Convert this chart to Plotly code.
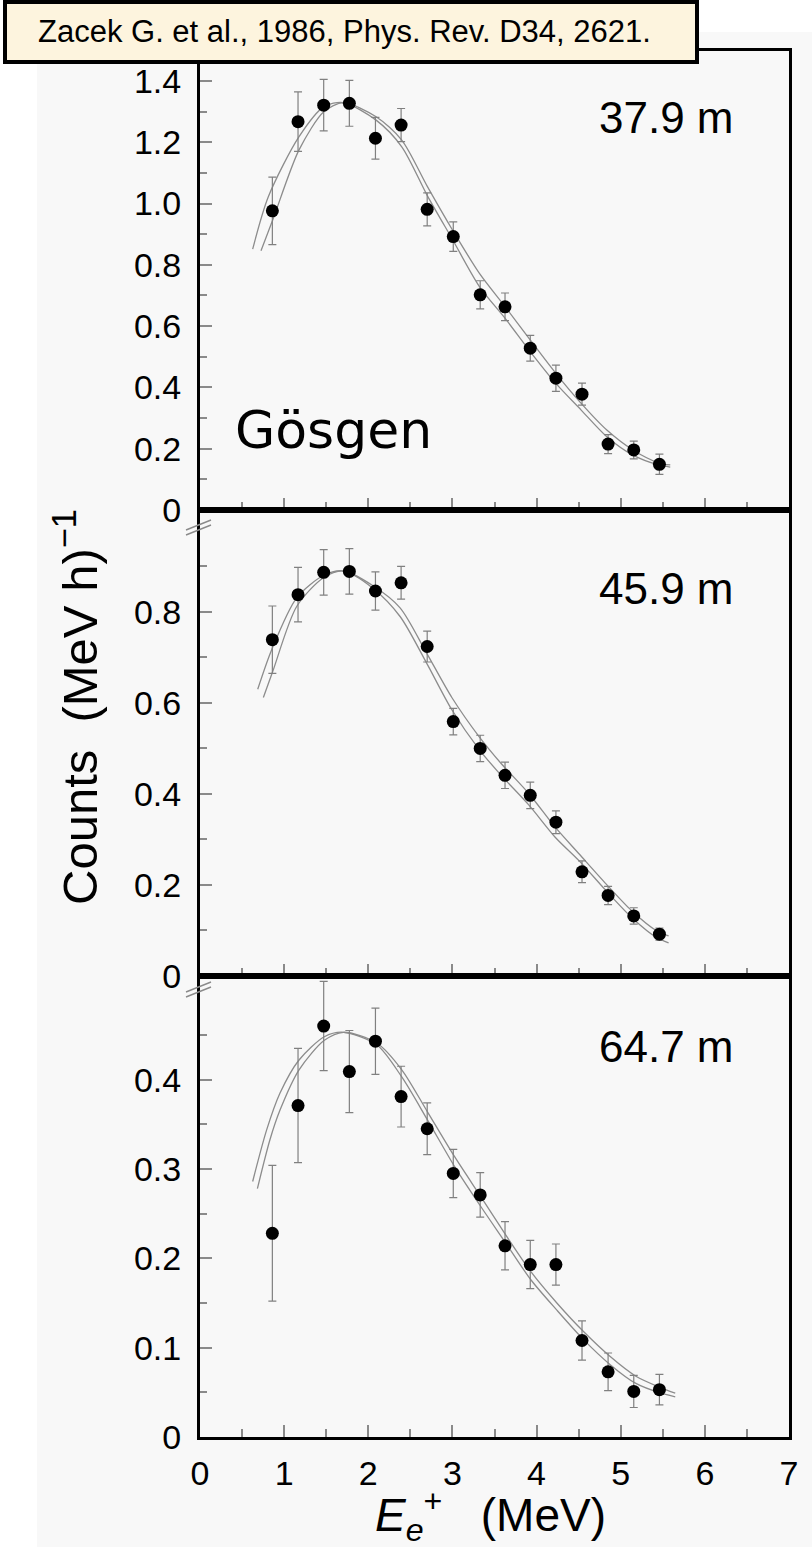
import plotly.graph_objects as go

# ---------------- data ----------------
energy_mev = [0.86, 1.165, 1.47, 1.775, 2.085, 2.39, 2.70, 3.01,
              3.33, 3.625, 3.925, 4.23, 4.54, 4.85, 5.155, 5.46]

counts_379 = [0.976, 1.267, 1.321, 1.327, 1.213, 1.256, 0.981, 0.892,
              0.702, 0.663, 0.528, 0.430, 0.378, 0.215, 0.196, 0.149]
err_379 = [0.110, 0.097, 0.084, 0.075, 0.068, 0.054, 0.054, 0.048,
           0.046, 0.045, 0.042, 0.043, 0.036, 0.031, 0.029, 0.033]

counts_459 = [0.739, 0.838, 0.887, 0.889, 0.846, 0.864, 0.724, 0.559,
              0.500, 0.441, 0.397, 0.338, 0.229, 0.177, 0.132, 0.092]
err_459 = [0.074, 0.060, 0.050, 0.050, 0.042, 0.036, 0.034, 0.029,
           0.029, 0.029, 0.029, 0.025, 0.024, 0.020, 0.018, 0.013]

counts_647 = [0.228, 0.371, 0.460, 0.409, 0.443, 0.381, 0.345, 0.295,
              0.271, 0.214, 0.193, 0.193, 0.108, 0.073, 0.051, 0.053]
err_647 = [0.076, 0.064, 0.050, 0.046, 0.037, 0.034, 0.029, 0.027,
           0.025, 0.027, 0.027, 0.023, 0.022, 0.021, 0.018, 0.017]

# fitted curves (two per panel)
fitA_379_x = [0.626, 0.812, 1.177, 1.474, 1.704, 2.093, 2.398, 2.703, 3.004,
              3.321, 3.627, 3.924, 4.229, 4.530, 4.835, 5.145, 5.45, 5.589]
fitA_379_y = [0.851, 1.022, 1.218, 1.316, 1.329, 1.272, 1.185, 1.025, 0.881,
              0.729, 0.625, 0.517, 0.413, 0.326, 0.239, 0.179, 0.147, 0.140]
fitB_379_x = [0.725, 0.864, 1.177, 1.474, 1.704, 2.093, 2.398, 2.703, 3.004,
              3.321, 3.627, 3.924, 4.229, 4.530, 4.835, 5.145, 5.45, 5.589]
fitB_379_y = [0.846, 0.946, 1.175, 1.300, 1.329, 1.283, 1.207, 1.055, 0.912,
              0.772, 0.663, 0.555, 0.446, 0.348, 0.261, 0.196, 0.154, 0.147]

fitA_459_x = [0.686, 0.852, 1.149, 1.467, 1.704, 2.061, 2.378, 2.695, 2.993,
              3.321, 3.579, 3.912, 4.221, 4.507, 4.828, 5.133, 5.430, 5.569]
fitA_459_y = [0.630, 0.717, 0.831, 0.880, 0.890, 0.851, 0.790, 0.687, 0.585,
              0.497, 0.441, 0.375, 0.305, 0.253, 0.187, 0.128, 0.084, 0.073]
fitB_459_x = [0.753, 0.864, 1.149, 1.467, 1.704, 2.061, 2.378, 2.695, 2.993,
              3.321, 3.579, 3.912, 4.221, 4.507, 4.828, 5.133, 5.430, 5.569]
fitB_459_y = [0.612, 0.669, 0.812, 0.875, 0.890, 0.857, 0.809, 0.709, 0.612,
              0.525, 0.467, 0.400, 0.327, 0.268, 0.202, 0.143, 0.099, 0.088]

fitA_647_x = [0.626, 0.793, 0.951, 1.177, 1.478, 1.704, 2.101, 2.398, 2.703, 3.024,
              3.337, 3.635, 3.932, 4.241, 4.558, 4.875, 5.18, 5.48, 5.648]
fitA_647_y = [0.286, 0.344, 0.385, 0.422, 0.448, 0.453, 0.439, 0.403, 0.355, 0.303,
              0.258, 0.217, 0.176, 0.142, 0.109, 0.081, 0.060, 0.049, 0.045]
fitB_647_x = [0.682, 0.832, 0.951, 1.177, 1.478, 1.704, 2.101, 2.398, 2.703, 3.024,
              3.337, 3.635, 3.932, 4.241, 4.558, 4.875, 5.18, 5.48, 5.648]
fitB_647_y = [0.278, 0.333, 0.366, 0.411, 0.444, 0.453, 0.441, 0.411, 0.364, 0.314,
              0.269, 0.226, 0.185, 0.150, 0.118, 0.090, 0.068, 0.055, 0.049]

panel_labels = ["37.9 m", "45.9 m", "64.7 m"]
x_ticks = [0, 1, 2, 3, 4, 5, 6, 7]
y_ticks_379 = [0, 0.2, 0.4, 0.6, 0.8, 1.0, 1.2, 1.4]
y_text_379 = ["0", "0.2", "0.4", "0.6", "0.8", "1.0", "1.2", "1.4"]
y_ticks_459 = [0, 0.2, 0.4, 0.6, 0.8]
y_text_459 = ["0", "0.2", "0.4", "0.6", "0.8"]
y_ticks_647 = [0, 0.1, 0.2, 0.3, 0.4]
y_text_647 = ["0", "0.1", "0.2", "0.3", "0.4"]

# ---------------- layout geometry ----------------
W, H = 812, 1547
L, R, T, B = 200, 23, 51, 110
PW = W - L - R
PH = H - T - B


def fx(xp):
    return (xp - L) / PW


def fy(yp):
    return (H - B - yp) / PH


SANS = "Liberation Sans, Arial, Helvetica, sans-serif"
CURVE = dict(color="#8c8c8c", width=1.3, shape="spline", smoothing=0.8)
ERRC = "#808080"

fig = go.Figure()

panels = [
    ("", fitA_379_x, fitA_379_y, fitB_379_x, fitB_379_y, counts_379, err_379),
    ("2", fitA_459_x, fitA_459_y, fitB_459_x, fitB_459_y, counts_459, err_459),
    ("3", fitA_647_x, fitA_647_y, fitB_647_x, fitB_647_y, counts_647, err_647),
]
for sfx, ax_, ay_, bx_, by_, cts, err in panels:
    xa, ya = "x" + sfx, "y" + sfx
    fig.add_trace(go.Scatter(x=ax_, y=ay_, mode="lines", line=CURVE,
                             xaxis=xa, yaxis=ya, showlegend=False, hoverinfo="skip"))
    fig.add_trace(go.Scatter(x=bx_, y=by_, mode="lines", line=CURVE,
                             xaxis=xa, yaxis=ya, showlegend=False, hoverinfo="skip"))
    fig.add_trace(go.Scatter(
        x=energy_mev, y=cts, mode="markers",
        marker=dict(color="black", size=13),
        error_y=dict(type="data", array=err, visible=True,
                     color=ERRC, thickness=1.2, width=4),
        xaxis=xa, yaxis=ya, showlegend=False))

dom_top = [fy(510), 1.0]
dom_mid = [fy(976), fy(510)]
dom_bot = [0.0, fy(976)]

TICKC = "#8a8a8a"


def xaxis(anchor, labels):
    return dict(
        domain=[0, 1], range=[0, 7], anchor=anchor,
        tickmode="array", tickvals=x_ticks, ticktext=[str(v) for v in x_ticks],
        ticks="inside", ticklen=12, tickwidth=1.5, tickcolor=TICKC,
        minor=dict(tickmode="array", tickvals=[0.5, 1.5, 2.5, 3.5, 4.5, 5.5, 6.5],
                   ticks="inside", ticklen=8, tickwidth=1.5, tickcolor=TICKC),
        showticklabels=labels, ticklabelstandoff=4,
        tickfont=dict(family=SANS, size=34, color="black"),
        showline=True, linewidth=3, linecolor="black", mirror=True,
        showgrid=False, zeroline=False,
    )


def yaxis(anchor, dom, rng, tv, tt, minor_vals):
    return dict(
        domain=dom, range=rng, anchor=anchor,
        tickmode="array", tickvals=tv, ticktext=tt,
        ticks="inside", ticklen=12, tickwidth=1.5, tickcolor=TICKC,
        minor=dict(tickmode="array", tickvals=minor_vals,
                   ticks="inside", ticklen=7, tickwidth=1.5, tickcolor=TICKC),
        ticklabelstandoff=9,
        tickfont=dict(family=SANS, size=34, color="black"),
        showline=True, linewidth=3, linecolor="black", mirror=True,
        showgrid=False, zeroline=False,
    )


annotations = []
# panel labels
for txt, yc in zip(panel_labels, [117, 588, 1046]):
    annotations.append(dict(text=txt, xref="paper", yref="paper", x=fx(666), y=fy(yc),
                            xanchor="center", yanchor="middle", showarrow=False,
                            font=dict(family=SANS, size=44, color="black")))
# site name
annotations.append(dict(text="Gösgen", xref="paper", yref="paper", x=fx(233), y=fy(430),
                        xanchor="left", yanchor="middle", showarrow=False,
                        font=dict(family="DejaVu Sans, Verdana, sans-serif", size=52,
                                  color="black")))
# citation
annotations.append(dict(text="Zacek G. et al., 1986, Phys. Rev. D34, 2621.",
                        xref="paper", yref="paper", x=fx(36), y=fy(32),
                        xanchor="left", yanchor="middle", showarrow=False,
                        font=dict(family=SANS, size=31, color="black")))
# axis titles
annotations.append(dict(text="Counts\u00a0\u00a0(MeV h)<sup>\u22121</sup>",
                        xref="paper", yref="paper", x=fx(76), y=fy(707),
                        xanchor="center", yanchor="middle", textangle=-90,
                        showarrow=False, font=dict(family=SANS, size=49, color="black")))
annotations.append(dict(text="<i>E</i><sub><i>e</i></sub><sup>+</sup>\u00a0\u00a0\u00a0(MeV)",
                        xref="paper", yref="paper", x=fx(490), y=fy(1515),
                        xanchor="center", yanchor="middle",
                        showarrow=False, font=dict(family=SANS, size=46, color="black")))

shapes = [
    # scanned-figure background
    dict(type="rect", xref="paper", yref="paper", x0=fx(37), x1=fx(812),
         y0=fy(1547), y1=fy(32), fillcolor="#f8f8f8", line=dict(width=0), layer="below"),
    # citation box
    dict(type="rect", xref="paper", yref="paper", x0=fx(5), x1=fx(697),
         y0=fy(62), y1=fy(2), fillcolor="#fdf4de", line=dict(color="black", width=4)),
]
# axis-break marks
for c in (528, 990):
    for off in (0, -5):
        shapes.append(dict(type="line", xref="paper", yref="paper",
                           x0=fx(186), y0=fy(c + 7 + off), x1=fx(211), y1=fy(c - 3 + off),
                           line=dict(color="#8a8a8a", width=1.5)))

fig.update_layout(
    width=W, height=H,
    margin=dict(l=L, r=R, t=T, b=B, pad=0),
    paper_bgcolor="white", plot_bgcolor="#f9f9f9",
    xaxis=xaxis("y", False),
    xaxis2=xaxis("y2", False),
    xaxis3=xaxis("y3", True),
    yaxis=yaxis("x", dom_top, [0, 1.4976], y_ticks_379, y_text_379,
                [0.1, 0.3, 0.5, 0.7, 0.9, 1.1, 1.3]),
    yaxis2=yaxis("x2", dom_mid, [0, 1.024], y_ticks_459, y_text_459,
                 [0.1, 0.3, 0.5, 0.7, 0.9]),
    yaxis3=yaxis("x3", dom_bot, [0, 0.516], y_ticks_647, y_text_647,
                  [0.05, 0.15, 0.25, 0.35, 0.45]),
    annotations=annotations,
    shapes=shapes,
    showlegend=False,
)

fig.write_html("out.html")
